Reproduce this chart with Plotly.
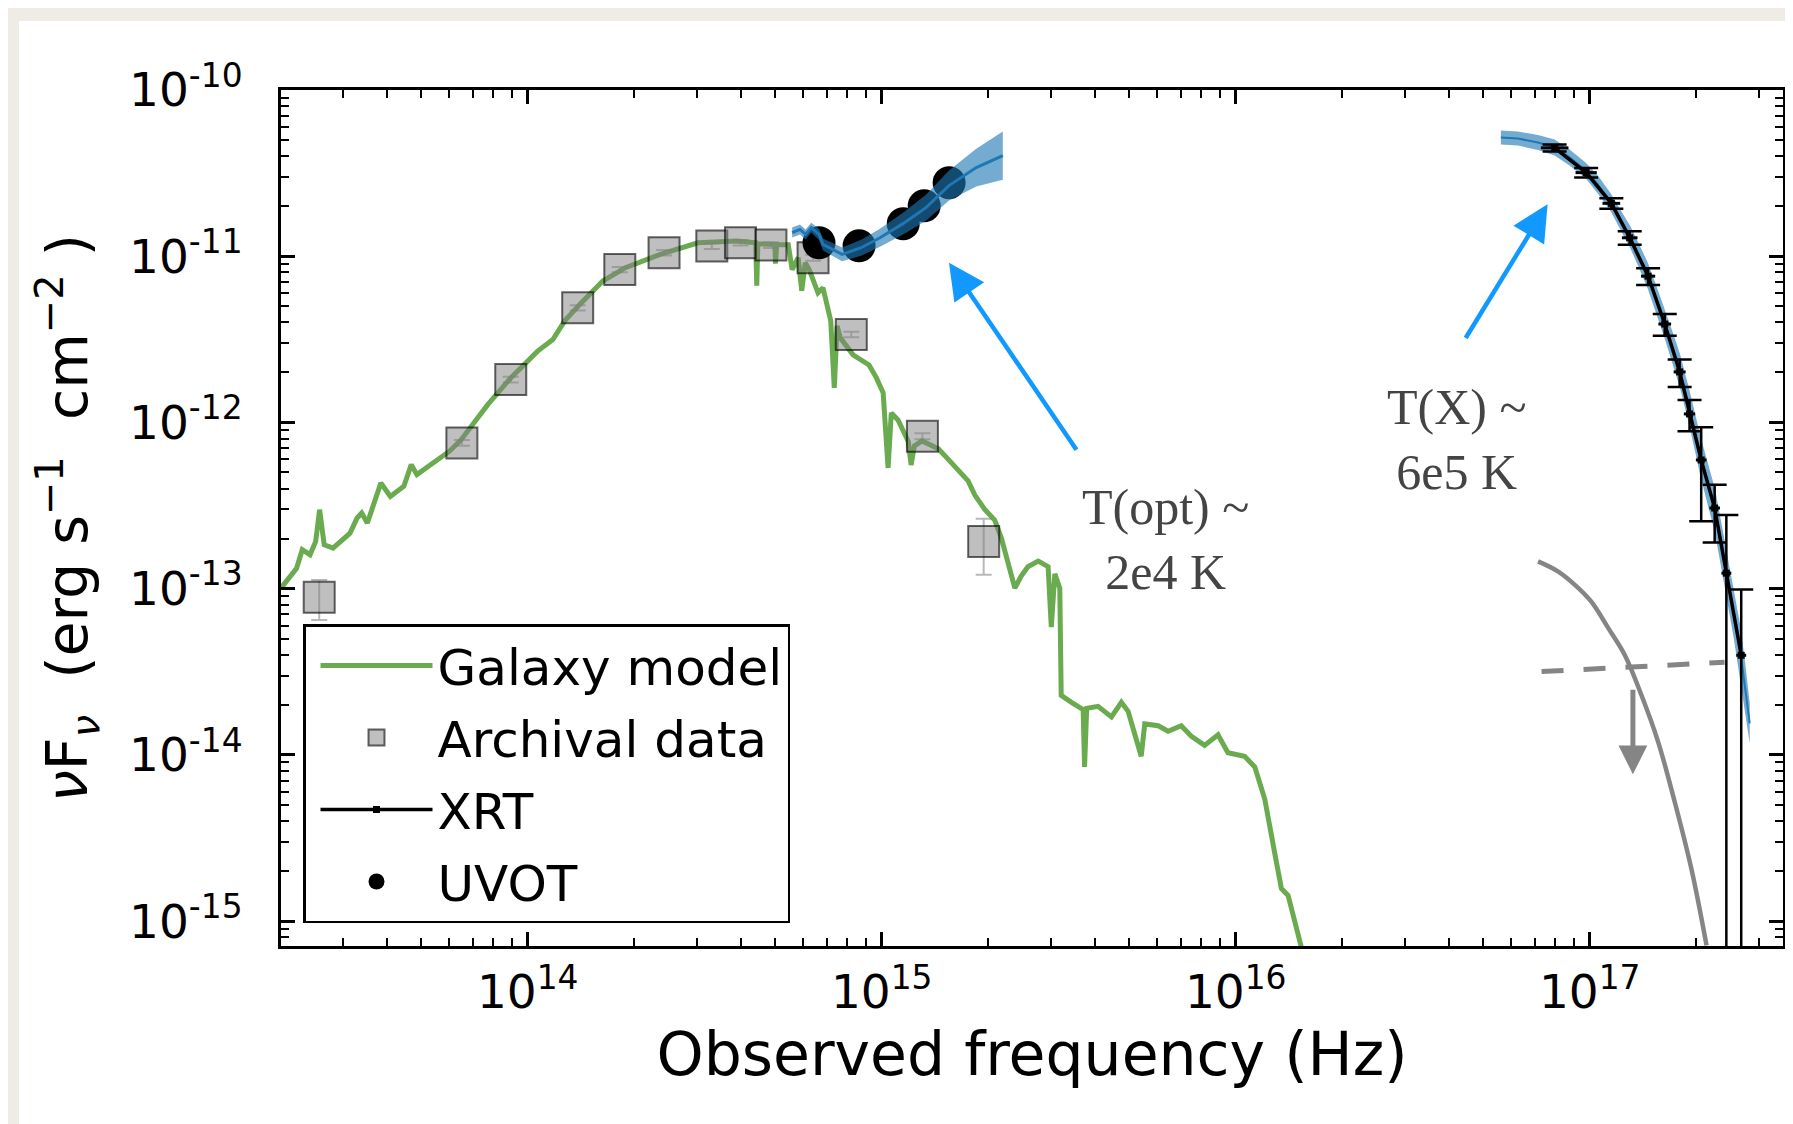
import numpy as np
import plotly.graph_objects as go

# ---------------- data ----------------
# Galaxy model spectrum: log10(nu / Hz), log10(nuFnu / erg s^-1 cm^-2)
gal_lognu = [13.303, 13.324, 13.347, 13.363, 13.385, 13.401, 13.412, 13.425, 13.450, 13.498,
             13.518, 13.531, 13.547, 13.585, 13.612, 13.650, 13.671, 13.687, 13.779, 13.812,
             13.887, 13.952, 14.028, 14.071, 14.104, 14.147, 14.212, 14.276, 14.374, 14.481,
             14.590, 14.644, 14.647, 14.650, 14.698, 14.700, 14.703, 14.736, 14.747, 14.764,
             14.774, 14.784, 14.795, 14.820, 14.834, 14.856, 14.866, 14.874, 14.883, 14.919,
             14.964, 14.985, 15.004, 15.018, 15.027, 15.046, 15.075, 15.083, 15.092, 15.114,
             15.160, 15.188, 15.216, 15.244, 15.263, 15.291, 15.319, 15.338, 15.357, 15.376,
             15.394, 15.413, 15.442, 15.470, 15.479, 15.489, 15.503, 15.507, 15.536, 15.569,
             15.573, 15.579, 15.611, 15.649, 15.677, 15.696, 15.733, 15.743, 15.781, 15.809,
             15.846, 15.875, 15.912, 15.950, 15.978, 16.025, 16.054, 16.082, 16.110, 16.129,
             16.148, 16.176, 16.190]
gal_logf = [-12.997, -12.937, -12.877, -12.766, -12.796, -12.716, -12.525, -12.736, -12.756, -12.666,
            -12.575, -12.545, -12.605, -12.364, -12.445, -12.384, -12.254, -12.314, -12.173, -12.104,
            -11.893, -11.732, -11.571, -11.501, -11.390, -11.290, -11.149, -11.069, -10.989, -10.919,
            -10.908, -10.919, -11.178, -10.925, -10.929, -11.045, -10.931, -10.931, -11.081, -11.009,
            -11.208, -11.039, -11.081, -11.220, -11.190, -11.389, -11.792, -11.419, -11.491, -11.593,
            -11.654, -11.732, -11.822, -12.274, -11.943, -11.985, -12.115, -12.256, -12.142, -12.111,
            -12.158, -12.222, -12.286, -12.352, -12.437, -12.523, -12.587, -12.696, -12.846, -12.997,
            -12.925, -12.868, -12.834, -12.868, -13.232, -12.911, -12.997, -13.642, -13.684, -13.728,
            -14.073, -13.720, -13.708, -13.772, -13.684, -13.738, -14.008, -13.814, -13.825, -13.858,
            -13.825, -13.889, -13.943, -13.879, -13.987, -14.009, -14.073, -14.266, -14.589, -14.804,
            -14.846, -15.063, -15.196]

# Archival photometry
arch_nu = [2.576e13, 6.516e13, 8.954e13, 1.384e14, 1.820e14, 2.427e14, 3.311e14,
           3.990e14, 4.864e14, 6.397e14, 8.204e14, 1.303e15, 1.941e15]
arch_f = [8.87e-14, 7.53e-13, 1.811e-12, 4.898e-12, 8.318e-12, 1.050e-11, 1.151e-11,
          1.205e-11, 1.167e-11, 9.795e-12, 3.381e-12, 8.260e-13, 1.923e-13]
arch_err = [2.4e-14, 3.0e-14, 7.0e-14, 1.8e-13, 3.0e-13, 4.0e-13, 4.5e-13,
            4.5e-13, 4.5e-13, 4.0e-13, 1.3e-13, 3.5e-14, 7.1e-14]

# Swift UVOT
uvot_nu = [6.65e14, 8.63e14, 1.150e15, 1.318e15, 1.55e15]
uvot_f = [1.205e-11, 1.155e-11, 1.57e-11, 2.01e-11, 2.77e-11]
uvot_err = [4e-13, 4e-13, 5e-13, 6e-13, 8e-13]

# Swift XRT
xrt_nu = [7.96e16, 9.77e16, 1.151e17, 1.297e17, 1.462e17, 1.629e17,
          1.795e17, 1.914e17, 2.065e17, 2.254e17, 2.432e17, 2.679e17]
xrt_f = [4.487e-11, 3.184e-11, 2.080e-11, 1.291e-11, 7.586e-12, 3.908e-12,
         2.014e-12, 1.125e-12, 5.943e-13, 3.055e-13, 1.239e-13, 3.972e-14]
xrt_ferr = [2.2e-12, 2.1e-12, 1.5e-12, 1.2e-12, 8.7e-13, 5.9e-13,
            3.8e-13, 2.4e-13, 3.4e-13, 1.16e-13, 1.53e-13, 5.9e-14]
xrt_bin_dex = [0.039, 0.030, 0.025, 0.022, 0.020, 0.018,
               0.017, 0.016, 0.015, 0.015, 0.014, 0.014]

# Optical blackbody fit (centre + half width, log10)
opt_lognu = [14.747, 14.769, 14.785, 14.801, 14.823, 14.834, 14.888, 14.942,
             14.995, 15.060, 15.125, 15.190, 15.267, 15.342]
opt_logf = [-10.858, -10.839, -10.869, -10.828, -10.869, -10.929, -10.989, -10.949,
            -10.889, -10.804, -10.708, -10.575, -10.467, -10.395]
opt_hw = [0.030, 0.030, 0.030, 0.030, 0.033, 0.036, 0.042, 0.048,
          0.054, 0.066, 0.078, 0.090, 0.114, 0.145]

# X-ray blackbody fit (centre + half width, log10)
xbb_lognu = [16.749, 16.797, 16.854, 16.901, 16.944, 16.989, 17.023, 17.060,
             17.085, 17.114, 17.139, 17.164, 17.187, 17.212, 17.235, 17.255,
             17.283, 17.314, 17.354, 17.385, 17.407, 17.427, 17.441, 17.452]
xbb_logf = [-10.286, -10.292, -10.316, -10.346, -10.407, -10.485, -10.569, -10.678,
            -10.774, -10.883, -10.997, -11.117, -11.256, -11.407, -11.557, -11.690,
            -11.925, -12.214, -12.533, -12.895, -13.148, -13.401, -13.630, -13.810]
xbb_hw = [0.042, 0.042, 0.045, 0.048, 0.048, 0.048, 0.054, 0.054,
          0.060, 0.066, 0.072, 0.078, 0.084, 0.090, 0.096, 0.102,
          0.108, 0.120, 0.133, 0.140, 0.150, 0.160, 0.150, 0.120]

# Grey curves: hot blackbody component and dashed upper limit
gbb_lognu = [16.854, 16.910, 16.958, 17.004, 17.052, 17.099, 17.146, 17.193, 17.240, 17.287, 17.330]
gbb_logf = [-12.836, -12.896, -12.977, -13.077, -13.236, -13.399, -13.640, -13.920, -14.282, -14.684, -15.146]
lim_lognu = [16.864, 17.381]
lim_logf = [-13.499, -13.443]

# Annotations (log10 positions)
opt_label = dict(x=15.803, y=-12.702, text="T(opt) ~<br>2e4 K")
xray_label = dict(x=16.625, y=-12.105, text="T(X) ~<br>6e5 K")
opt_arrow = dict(x=15.190, y=-11.039, ax=15.553, ay=-12.173)
xray_arrow = dict(x=16.881, y=-10.688, ax=16.647, ay=-11.501)
limit_arrow = dict(x=17.122, y=-14.117, ax=17.122, ay=-13.599)

x_tickvals = [1e14, 1e15, 1e16, 1e17]
x_ticktext = ["10<sup>14</sup>", "10<sup>15</sup>", "10<sup>16</sup>", "10<sup>17</sup>"]
y_tickvals = [1e-15, 1e-14, 1e-13, 1e-12, 1e-11, 1e-10]
y_ticktext = ["10<sup>-15</sup>", "10<sup>-14</sup>", "10<sup>-13</sup>",
              "10<sup>-12</sup>", "10<sup>-11</sup>", "10<sup>-10</sup>"]

# ---------------- figure ----------------
def p10(a):
    return [10 ** v for v in a]

def band(lognu, logf, hw):
    nu = p10(lognu)
    up = [10 ** (f + h) for f, h in zip(logf, hw)]
    lo = [10 ** (f - h) for f, h in zip(logf, hw)]
    return nu + nu[::-1], up + lo[::-1]

GREEN = "#6aab4f"
BLUE = "#1f77b4"
BANDFILL = "rgba(31,119,180,0.62)"
GREY = "#858585"

fig = go.Figure()

fig.add_trace(go.Scatter(x=p10(gal_lognu), y=p10(gal_logf), mode="lines",
                         line=dict(color=GREEN, width=5), name="Galaxy model",
                         legendrank=1, legendgroup="g1"))

fig.add_trace(go.Scatter(x=arch_nu, y=arch_f, mode="markers", name="Archival data",
                         marker=dict(symbol="square", size=31, color="rgba(128,128,128,0.5)",
                                     line=dict(color="rgba(0,0,0,0.6)", width=2)),
                         error_y=dict(type="data", array=arch_err, color="rgba(128,128,128,0.55)",
                                      thickness=2, width=8),
                         legendrank=2, legendgroup="g2"))

fig.add_trace(go.Scatter(x=uvot_nu, y=uvot_f, mode="markers", name="UVOT",
                         marker=dict(symbol="circle", size=33, color="black"),
                         error_y=dict(type="data", array=uvot_err, color="black", thickness=2, width=8),
                         legendrank=4, legendgroup="g4"))

bx, by = band(opt_lognu, opt_logf, opt_hw)
fig.add_trace(go.Scatter(x=bx, y=by, mode="lines", fill="toself", fillcolor=BANDFILL,
                         line=dict(width=0), hoverinfo="skip", showlegend=False))
fig.add_trace(go.Scatter(x=p10(opt_lognu), y=p10(opt_logf), mode="lines",
                         line=dict(color=BLUE, width=3), showlegend=False))

bx, by = band(xbb_lognu, xbb_logf, xbb_hw)
fig.add_trace(go.Scatter(x=bx, y=by, mode="lines", fill="toself", fillcolor=BANDFILL,
                         line=dict(width=0), hoverinfo="skip", showlegend=False))
fig.add_trace(go.Scatter(x=p10(xbb_lognu), y=p10(xbb_logf), mode="lines",
                         line=dict(color=BLUE, width=2), showlegend=False))

fig.add_trace(go.Scatter(x=p10(gbb_lognu), y=p10(gbb_logf), mode="lines", line_shape="spline",
                         line=dict(color=GREY, width=4.5), showlegend=False))
fig.add_trace(go.Scatter(x=p10(lim_lognu), y=p10(lim_logf), mode="lines",
                         line=dict(color=GREY, width=5, dash="22px,20px"), showlegend=False))

xerr_hi = [n * (10 ** d - 1) for n, d in zip(xrt_nu, xrt_bin_dex)]
xerr_lo = [n * (1 - 10 ** -d) for n, d in zip(xrt_nu, xrt_bin_dex)]
fig.add_trace(go.Scatter(x=xrt_nu, y=xrt_f, mode="lines+markers", name="XRT",
                         line=dict(color="black", width=3.5),
                         marker=dict(symbol="square", size=7, color="black"),
                         error_y=dict(type="data", array=xrt_ferr, color="black", thickness=2.5, width=12),
                         error_x=dict(type="data", array=xerr_hi, arrayminus=xerr_lo, color="black",
                                      thickness=3, width=0),
                         legendrank=3, legendgroup="g3"))

serif = dict(family="Liberation Serif", size=50, color="#444444")
annotations = []
for lab in (opt_label, xray_label):
    annotations.append(dict(x=lab["x"], y=lab["y"], xref="x", yref="y", text=lab["text"],
                            showarrow=False, font=serif, xanchor="center", yanchor="middle",
                            align="center"))
for arr in (opt_arrow, xray_arrow):
    annotations.append(dict(x=arr["x"], y=arr["y"], ax=arr["ax"], ay=arr["ay"], xref="x", yref="y",
                            axref="x", ayref="y", text="", showarrow=True, arrowhead=2,
                            arrowsize=1.6, arrowwidth=4.5, arrowcolor="#1199ff",
                            standoff=0, startstandoff=0))
annotations.append(dict(x=limit_arrow["x"], y=limit_arrow["y"], ax=limit_arrow["ax"], ay=limit_arrow["ay"],
                        xref="x", yref="y", axref="x", ayref="y", text="", showarrow=True,
                        arrowhead=2, arrowsize=1.15, arrowwidth=5, arrowcolor=GREY,
                        standoff=0, startstandoff=0))

# plot-area geometry in pixels (used for the decorative page panel)
W, H = 1793, 1124
L, R, T, B = 273, 18, 82, 186
pw, ph = W - L - R, H - T - B

def px(xp):
    return (xp - L) / pw

def py(yp):
    return (H - B - yp) / ph

shapes = [dict(type="rect", xref="paper", yref="paper", x0=px(11), x1=px(1786), y0=py(1118), y1=py(13),
               fillcolor="white", line=dict(width=0), layer="below")]

minor_x = [k * 10.0 ** e for e in range(13, 18) for k in range(2, 10)]
minor_y = [k * 10.0 ** e for e in range(-16, -10) for k in range(2, 10)]

axis_common = dict(type="log", ticks="inside", ticklen=14, tickwidth=2.5, tickcolor="black",
                   showline=True, linecolor="black", linewidth=3, mirror="allticks",
                   showgrid=False, zeroline=False, tickmode="array",
                   tickfont=dict(family="DejaVu Sans", size=47, color="black"))

fig.update_layout(
    width=W, height=H,
    margin=dict(l=L, r=R, t=T, b=B, autoexpand=False),
    paper_bgcolor="#efece6", plot_bgcolor="white",
    font=dict(family="DejaVu Sans", color="black"),
    xaxis=dict(range=[13.303, 17.546], tickvals=x_tickvals, ticktext=x_ticktext,
               ticklabelstandoff=3,
               minor=dict(tickmode="array", tickvals=minor_x, ticks="inside", ticklen=8,
                          tickwidth=2, tickcolor="black", showgrid=False),
               title=dict(text="Observed frequency (Hz)", font=dict(size=60, family="DejaVu Sans"),
                          standoff=0),
               **axis_common),
    yaxis=dict(range=[-15.15, -10.0], tickvals=y_tickvals, ticktext=y_ticktext,
               ticklabelstandoff=26,
               minor=dict(tickmode="array", tickvals=minor_y, ticks="inside", ticklen=8,
                          tickwidth=2, tickcolor="black", showgrid=False),
               title=dict(text="<i>ν</i>F<sub><i>ν</i></sub>  (erg s<sup>−1</sup>  cm<sup>−2</sup> )",
                          font=dict(size=57, family="DejaVu Sans"), standoff=24),
               **axis_common),
    legend=dict(x=px(295), y=py(616), xanchor="left", yanchor="top",
                bgcolor="white", bordercolor="black", borderwidth=2.5,
                font=dict(family="DejaVu Sans", size=50, color="black"),
                itemwidth=112, indentation=10, traceorder="grouped", tracegroupgap=4),
    annotations=annotations,
    shapes=shapes,
    showlegend=True,
)

fig.write_html("out.html")
